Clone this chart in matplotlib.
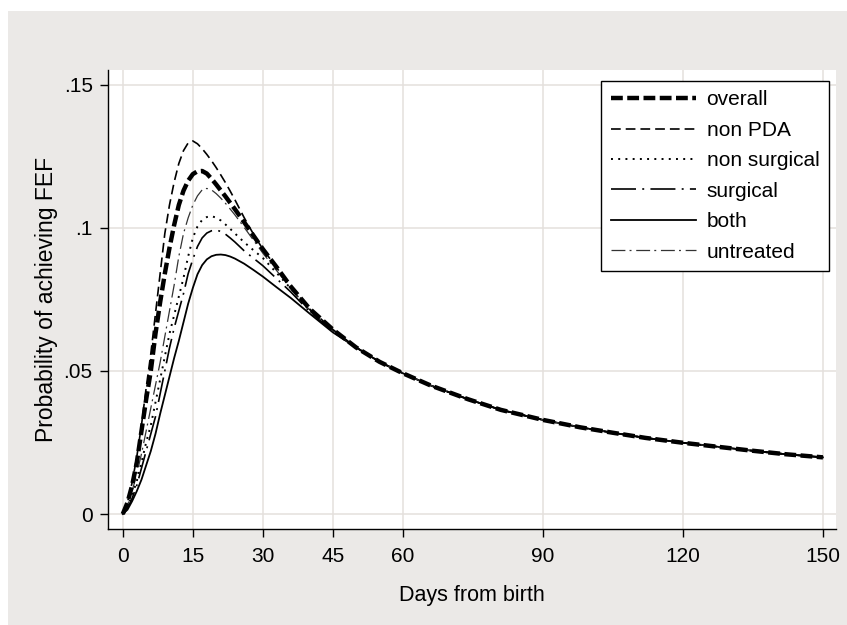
import matplotlib
matplotlib.use('Agg')
import matplotlib.pyplot as plt
from matplotlib.patches import Rectangle

plt.rcParams['font.family'] = ['Liberation Sans', 'DejaVu Sans']
plt.rcParams['lines.scale_dashes'] = False

# days from birth (dense near the peak, sparse in the tail)
days = [0, 1, 2, 3, 4, 5, 6, 7, 8, 9, 10, 11, 12, 13, 14, 15, 16, 17, 18, 19,
        20, 21, 22, 23, 24, 26, 28, 30, 33, 36, 40, 45,
        50, 55, 60, 66, 74, 81, 90, 98, 105, 112, 120, 128, 135, 142, 150]

# after ~50 days all groups lie on the same curve
tail = [0.0582, 0.0532, 0.0492, 0.0449, 0.0401, 0.0364, 0.0329, 0.0303,
        0.0284, 0.0266, 0.0249, 0.0234, 0.0221, 0.0209, 0.0198]

overall = [0, 0.004, 0.010, 0.018, 0.029, 0.040, 0.050, 0.063, 0.074, 0.084,
           0.093, 0.101, 0.108, 0.113, 0.1165, 0.1188, 0.1198, 0.1199, 0.1190, 0.1172,
           0.1152, 0.1131, 0.1110, 0.1088, 0.1066, 0.1020, 0.0973, 0.0926, 0.0862,
           0.0795, 0.0718, 0.0645] + tail
non_pda = [0, 0.004, 0.011, 0.020, 0.031, 0.044, 0.056, 0.070, 0.084, 0.098,
           0.108, 0.116, 0.1225, 0.127, 0.1297, 0.1304, 0.1294, 0.1277, 0.1257, 0.1235,
           0.1211, 0.1185, 0.1158, 0.1129, 0.1099, 0.1036, 0.0978, 0.0926, 0.0860,
           0.0794, 0.0717, 0.0645] + tail
non_surgical = [0, 0.0025, 0.0065, 0.0115, 0.018, 0.025, 0.031, 0.039, 0.047, 0.055,
                0.063, 0.0695, 0.076, 0.0825, 0.090, 0.0965, 0.1005, 0.1028, 0.1038, 0.1041,
                0.1036, 0.1026, 0.1012, 0.0997, 0.0981, 0.0950, 0.0922, 0.0895, 0.0842,
                0.0788, 0.0712, 0.0640] + tail
surgical = [0, 0.002, 0.0055, 0.010, 0.016, 0.022, 0.028, 0.034, 0.042, 0.050,
            0.058, 0.065, 0.071, 0.077, 0.084, 0.089, 0.0935, 0.0965, 0.0982, 0.0990,
            0.0992, 0.0988, 0.0978, 0.0965, 0.0951, 0.0920, 0.0894, 0.0868, 0.0822,
            0.0776, 0.0708, 0.0638] + tail
both = [0, 0.0015, 0.0045, 0.008, 0.012, 0.017, 0.022, 0.028, 0.035, 0.0415,
        0.048, 0.0545, 0.0605, 0.067, 0.0735, 0.079, 0.0838, 0.0870, 0.0890, 0.0901,
        0.0906, 0.0907, 0.0905, 0.0900, 0.0893, 0.0875, 0.0853, 0.0830, 0.0792,
        0.0755, 0.0701, 0.0635] + tail
untreated = [0, 0.003, 0.008, 0.014, 0.021, 0.029, 0.037, 0.045, 0.053, 0.062,
             0.071, 0.080, 0.090, 0.098, 0.1035, 0.108, 0.1112, 0.1133, 0.1138, 0.1133,
             0.1120, 0.1104, 0.1086, 0.1066, 0.1046, 0.1002, 0.0957, 0.0912, 0.0850,
             0.0788, 0.0714, 0.0640] + tail

x_ticks = [0, 15, 30, 45, 60, 90, 120, 150]
y_ticks = [0, 0.05, 0.1, 0.15]
y_labels = ['0', '.05', '.1', '.15']

fig = plt.figure(figsize=(8.47, 6.25), dpi=100)
fig.patch.set_facecolor('white')
# stata-like grey graph region
fig.patches.append(Rectangle((8 / 847, 0), 1, 1 - 11 / 625, transform=fig.transFigure,
                             facecolor='#ebe9e7', edgecolor='none', zorder=-10))

ax = fig.add_axes([108 / 847, 1 - 529 / 625, 728 / 847, 459 / 625])
ax.set_facecolor('white')

ax.plot(days, both, color='black', lw=1.3, linestyle='-', label='both')
ax.plot(days, surgical, color='black', lw=1.2, dashes=(18, 4.5, 1.4, 4.5), label='surgical')
ax.plot(days, non_surgical, color='black', lw=1.4, dashes=(1.4, 3.8), label='non surgical')
ax.plot(days, untreated, color='#333333', lw=0.9, dashes=(10, 3, 1.4, 3.4), label='untreated')
ax.plot(days, non_pda, color='black', lw=1.2, dashes=(7, 3.6), label='non PDA')
ax.plot(days, overall, color='black', lw=3.2, dashes=(8.5, 3.2), label='overall')

ax.set_xlim(-3.17, 152.8)
ax.set_ylim(-0.00524, 0.1552)
ax.set_xticks(x_ticks)
ax.set_yticks(y_ticks)
ax.set_yticklabels(y_labels)
ax.grid(True, color='#e4e0dd', lw=1.1)
ax.set_axisbelow(True)

for s in ['top', 'right']:
    ax.spines[s].set_visible(False)
for s in ['left', 'bottom']:
    ax.spines[s].set_color('black')
    ax.spines[s].set_linewidth(1.0)
ax.tick_params(axis='both', direction='out', length=6, width=1, colors='black',
               labelsize=15, pad=5)
ax.tick_params(axis='x', pad=7)

ax.set_xlabel('Days from birth', fontsize=15.5, labelpad=14)
ax.set_ylabel('Probability of achieving FEF', fontsize=16.5, labelpad=4)

handles, labels = ax.get_legend_handles_labels()
order = ['overall', 'non PDA', 'non surgical', 'surgical', 'both', 'untreated']
hmap = dict(zip(labels, handles))
leg = ax.legend([hmap[k] for k in order], order, loc='upper right',
                bbox_to_anchor=(0.990, 0.976), borderaxespad=0, fontsize=15,
                frameon=True, fancybox=False, framealpha=1, edgecolor='black',
                handlelength=4.1, handletextpad=0.5, labelspacing=0.55,
                borderpad=0.45)
leg.get_frame().set_linewidth(1.0)

plt.savefig('out.png', dpi=100)
